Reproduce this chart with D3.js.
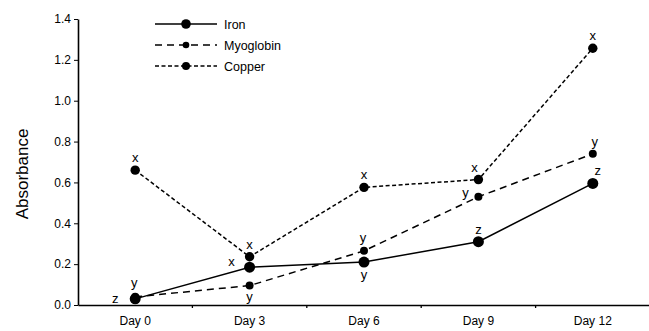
<!DOCTYPE html>
<html>
<head>
<meta charset="utf-8">
<script src="https://cdn.jsdelivr.net/npm/d3@7"></script>
<style>
  body { margin: 0; background: #fff; }
  svg { font-family: "Liberation Sans", Arial, sans-serif; }
</style>
</head>
<body>
<div id="chart"></div>
<script>
const days = ["Day 0", "Day 3", "Day 6", "Day 9", "Day 12"];
const iron = [0.03, 0.185, 0.21, 0.31, 0.595];
const myoglobin = [0.04, 0.095, 0.265, 0.53, 0.74];
const copper = [0.66, 0.236, 0.576, 0.614, 1.257];
const ironLetters = ["z", "x", "y", "z", "z"];
const myoglobinLetters = ["y", "y", "y", "y", "y"];
const copperLetters = ["x", "x", "x", "x", "x"];
const yTicks = [0, 0.2, 0.4, 0.6, 0.8, 1.0, 1.2, 1.4];

const width = 649, height = 331;
const margin = { left: 78, right: -1, top: 19, bottom: 26 };

const svg = d3.select("#chart").append("svg")
  .attr("width", width)
  .attr("height", height);

const x = d3.scaleBand()
  .domain(days)
  .range([margin.left, width - margin.right])
  .padding(0);

const y = d3.scaleLinear()
  .domain([0, 1.4])
  .range([height - margin.bottom, margin.top]);

// y axis
const yAxis = svg.append("g")
  .attr("transform", `translate(${margin.left},0)`)
  .call(d3.axisLeft(y).tickValues(yTicks).tickFormat(d3.format(".1f")).tickSize(4).tickSizeOuter(0).tickPadding(3));
yAxis.select(".domain").attr("stroke-width", 1.6);
yAxis.selectAll("text").attr("font-size", 12).attr("fill", "#000");

// x axis: labels at band centres, ticks at band edges
const xAxis = svg.append("g")
  .attr("transform", `translate(0,${y(0)})`)
  .call(d3.axisBottom(x).tickSize(0).tickPadding(11).tickSizeOuter(0));
xAxis.select(".domain").attr("stroke-width", 1.6);
xAxis.selectAll("text").attr("font-size", 12).attr("fill", "#000");
xAxis.selectAll(".edge")
  .data(days.slice(1))
  .enter().append("line")
  .attr("class", "edge")
  .attr("x1", d => x(d)).attr("x2", d => x(d))
  .attr("y1", 0).attr("y2", 3)
  .attr("stroke", "#000")
  .attr("stroke-width", 1.3);

svg.append("text")
  .attr("transform", `translate(28,${(y(0) + y(1.4)) / 2 + 12}) rotate(-90)`)
  .attr("text-anchor", "middle")
  .attr("font-size", 17)
  .text("Absorbance");

const series = [
  { name: "Iron", values: iron, letters: ironLetters, dash: null, r: 5.5,
    offsets: [[-20, 4], [-18, -1], [0, 17], [0, -8], [5, -8]] },
  { name: "Myoglobin", values: myoglobin, letters: myoglobinLetters, dash: "7,5", r: 4,
    offsets: [[-1, -10], [0, 15], [-1, -9], [-13, 0], [2, -8]] },
  { name: "Copper", values: copper, letters: copperLetters, dash: "4,2.5", r: 4.7,
    offsets: [[0, -8], [0, -8], [0, -8], [-4, -8], [0, -8]] }
];

const line = d3.line()
  .x((d, i) => x(days[i]) + x.bandwidth() / 2)
  .y(d => y(d));

series.forEach(s => {
  svg.append("path")
    .datum(s.values)
    .attr("fill", "none")
    .attr("stroke", "#000")
    .attr("stroke-width", 1.5)
    .attr("stroke-dasharray", s.dash)
    .attr("d", line);

  svg.append("g").selectAll("circle")
    .data(s.values)
    .enter().append("circle")
    .attr("cx", (d, i) => x(days[i]) + x.bandwidth() / 2)
    .attr("cy", d => y(d))
    .attr("r", s.r)
    .attr("fill", "#000");

  svg.append("g").selectAll("text")
    .data(s.values)
    .enter().append("text")
    .attr("x", (d, i) => x(days[i]) + x.bandwidth() / 2 + s.offsets[i][0])
    .attr("y", (d, i) => y(d) + s.offsets[i][1])
    .attr("text-anchor", "middle")
    .attr("font-size", 13)
    .text((d, i) => s.letters[i]);
});

// legend
const legend = svg.append("g").attr("transform", "translate(155,24)");
series.forEach((s, i) => {
  const row = legend.append("g").attr("transform", `translate(0,${i * 21})`);
  row.append("line")
    .attr("x1", 0).attr("x2", 62)
    .attr("stroke", "#000")
    .attr("stroke-width", 1.3)
    .attr("stroke-dasharray", s.dash);
  row.append("circle").attr("cx", 31).attr("r", s.r - 0.7).attr("fill", "#000");
  row.append("text")
    .attr("x", 69).attr("y", 4.5)
    .attr("font-size", 12.5)
    .text(s.name);
});
</script>
</body>
</html>
